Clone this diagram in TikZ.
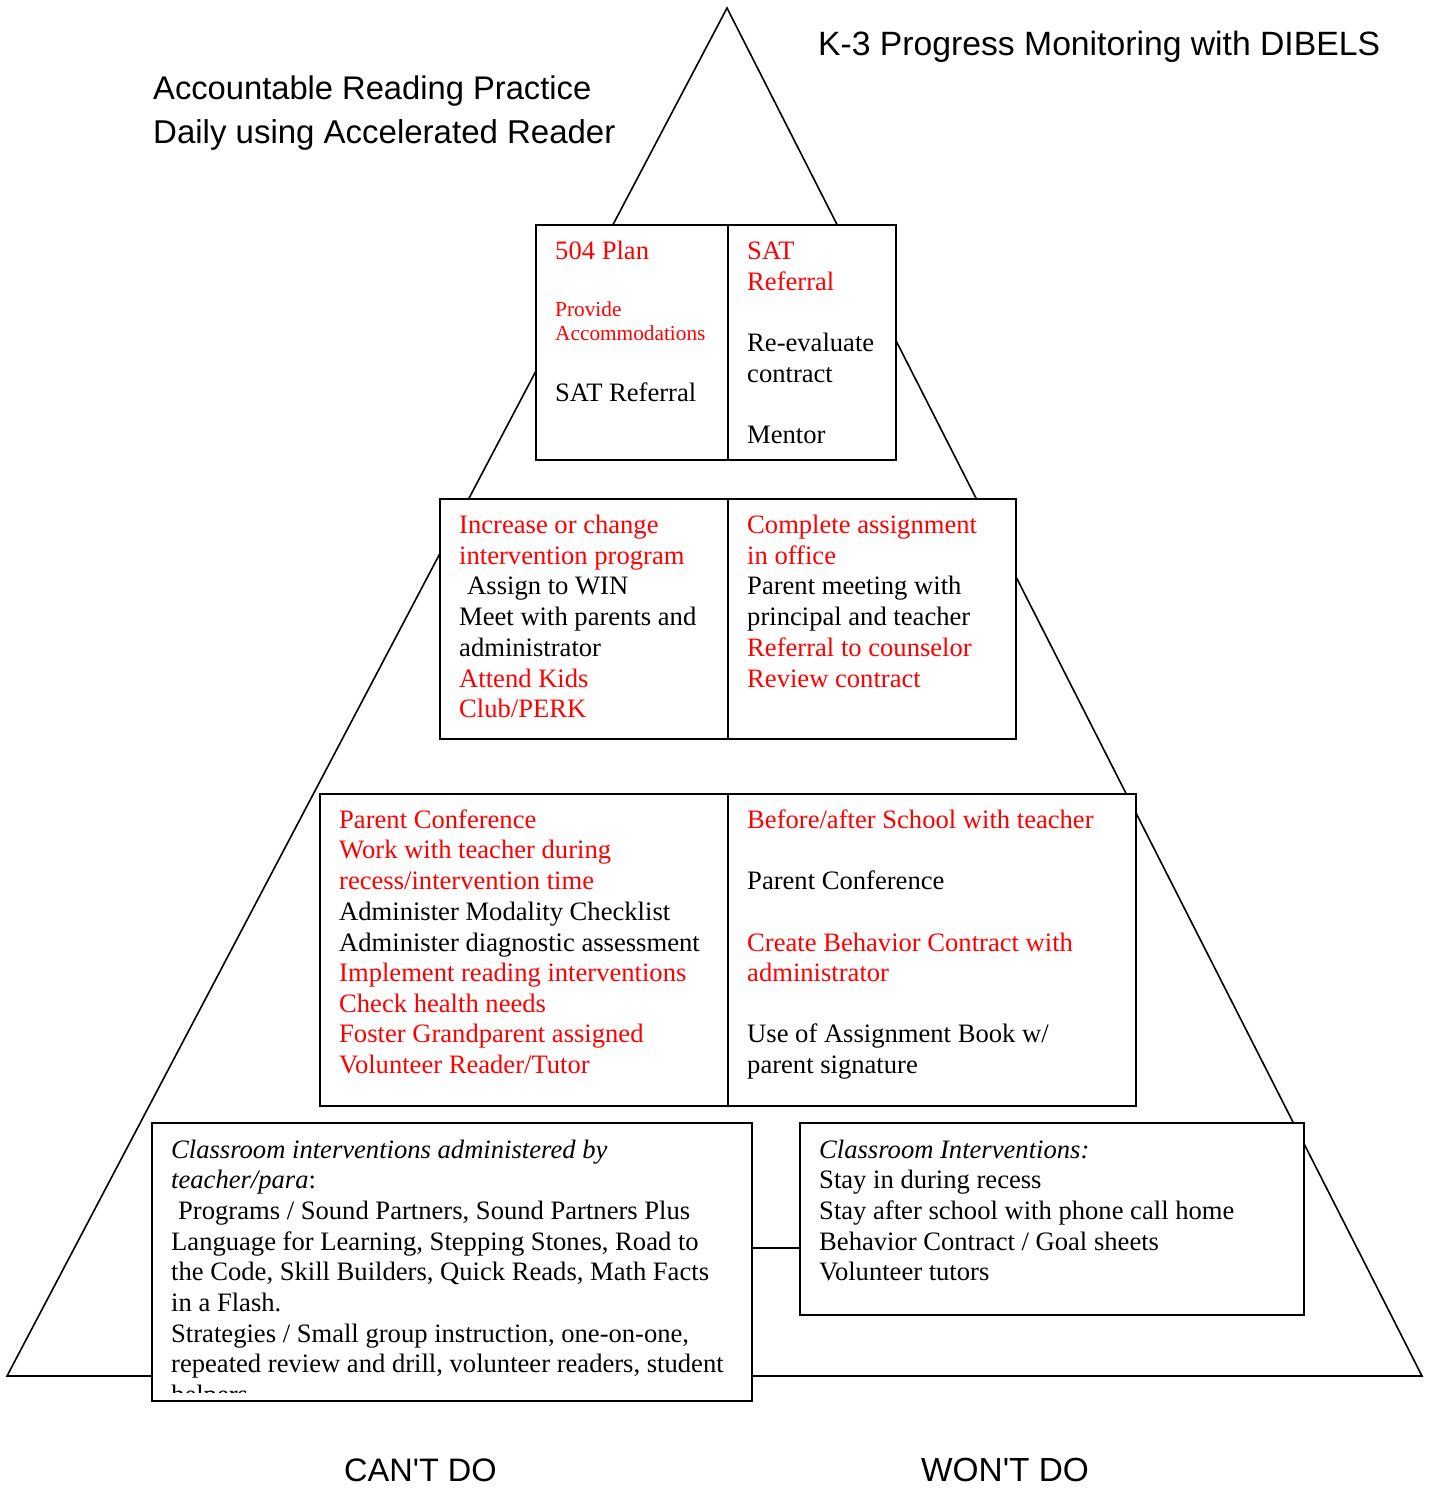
\documentclass[tikz,border=0pt]{standalone}
\usepackage{fontspec}
\setmainfont{Liberation Serif}
\newfontfamily\titlefont{Liberation Sans}
\definecolor{myred}{RGB}{255,0,0}
\begin{document}
\begin{tikzpicture}[x=1pt,y=-1pt,
  cell/.style={draw, line width=2pt, fill=white, inner sep=0pt, anchor=north west},
  tri/.style={draw, line width=1.6pt, line join=miter},
  txt/.style={inner sep=0pt, anchor=base west, font=\fontsize{26.6}{30.6}\selectfont},
  smtxt/.style={txt, font=\fontsize{21.3}{25}\selectfont},
  rtxt/.style={text=myred},
  ttl/.style={inner sep=0pt, anchor=base west, font=\titlefont\fontsize{#1}{40}\selectfont}]
\useasboundingbox (0,0) rectangle (1429,1490);

% pyramid
\coordinate (apex) at (727,8);
\coordinate (bl) at (7,1376);
\coordinate (br) at (1422,1376);
\draw[tri] (apex) -- (bl) -- (br) -- cycle;

% titles
\node[ttl=33.7] (t1) at (818,56) {K-3 Progress Monitoring with DIBELS};
\node[ttl=32.7] (t2) at (153,100) {Accountable Reading Practice};
\node[ttl=33.0] (t3) at (153,144) {Daily using Accelerated Reader};
\node[ttl=32.5] (t4) at (344,1481) {CAN'T DO};
\node[ttl=33.4] (t5) at (921,1481) {WON'T DO};

% tier 1 (top)
\node[cell, minimum width=192pt, minimum height=235pt] (b1l) at (535,224) {};
\node[cell, minimum width=168pt, minimum height=235pt] (b1r) at (727,224) {};
\node[txt, rtxt] (b1l1) at (555,259) {504 Plan};
\node[smtxt, rtxt] (b1l2) at (555,316) {Provide};
\node[smtxt, rtxt] (b1l3) at (555,340) {Accommodations};
\node[txt] (b1l4) at (555,401) {SAT Referral};
\node[txt, rtxt] (b1r1) at (747,259) {SAT};
\node[txt, rtxt] (b1r2) at (747,290) {Referral};
\node[txt] (b1r3) at (747,351) {Re-evaluate};
\node[txt] (b1r4) at (747,382) {contract};
\node[txt] (b1r5) at (747,443) {Mentor};

% tier 2
\node[cell, minimum width=288pt, minimum height=240pt] (b2l) at (439,498) {};
\node[cell, minimum width=288pt, minimum height=240pt] (b2r) at (727,498) {};
\node[txt, rtxt] (b2l1) at (459,533) {Increase or change};
\node[txt, rtxt] (b2l2) at (459,564) {intervention program};
\node[txt] (b2l3) at (467,594) {Assign to WIN};
\node[txt] (b2l4) at (459,625) {Meet with parents and};
\node[txt] (b2l5) at (459,656) {administrator};
\node[txt, rtxt] (b2l6) at (459,687) {Attend Kids};
\node[txt, rtxt] (b2l7) at (459,717) {Club/PERK};
\node[txt, rtxt] (b2r1) at (747,533) {Complete assignment};
\node[txt, rtxt] (b2r2) at (747,564) {in office};
\node[txt] (b2r3) at (747,594) {Parent meeting with};
\node[txt] (b2r4) at (747,625) {principal and teacher};
\node[txt, rtxt] (b2r5) at (747,656) {Referral to counselor};
\node[txt, rtxt] (b2r6) at (747,687) {Review contract};

% tier 3
\node[cell, minimum width=408pt, minimum height=312pt] (b3l) at (319,793) {};
\node[cell, minimum width=408pt, minimum height=312pt] (b3r) at (727,793) {};
\node[txt, rtxt] (b3l1) at (339,828) {Parent Conference};
\node[txt, rtxt] (b3l2) at (339,858) {Work with teacher during};
\node[txt, rtxt] (b3l3) at (339,889) {recess/intervention time};
\node[txt] (b3l4) at (339,920) {Administer Modality Checklist};
\node[txt] (b3l5) at (339,951) {Administer diagnostic assessment};
\node[txt, rtxt] (b3l6) at (339,981) {Implement reading interventions};
\node[txt, rtxt] (b3l7) at (339,1012) {Check health needs};
\node[txt, rtxt] (b3l8) at (339,1042) {Foster Grandparent assigned};
\node[txt, rtxt] (b3l9) at (339,1073) {Volunteer Reader/Tutor};
\node[txt, rtxt] (b3r1) at (747,828) {Before/after School with teacher};
\node[txt] (b3r2) at (747,889) {Parent Conference};
\node[txt, rtxt] (b3r3) at (747,951) {Create Behavior Contract with};
\node[txt, rtxt] (b3r4) at (747,981) {administrator};
\node[txt] (b3r5) at (747,1042) {Use of Assignment Book w/};
\node[txt] (b3r6) at (747,1073) {parent signature};

% tier 4 (bottom)
\node[cell, minimum width=600pt, minimum height=278pt] (b4l) at (151,1122) {};
\node[cell, minimum width=504pt, minimum height=192pt] (b4r) at (799,1122) {};
\coordinate (cy) at (0,1248);
\draw[line width=2pt] (b4l.east |- cy) -- (b4r.west |- cy);
\begin{scope}
\clip (151,1122) rectangle (751,1392);
\node[txt] (b4l1) at (171,1158) {\itshape Classroom interventions administered by};
\node[txt] (b4l2) at (171,1188) {\itshape teacher/para\upshape:};
\node[txt] (b4l3) at (178,1219) {Programs / Sound Partners, Sound Partners Plus};
\node[txt] (b4l4) at (171,1250) {Language for Learning, Stepping Stones, Road to};
\node[txt] (b4l5) at (171,1280) {the Code, Skill Builders, Quick Reads, Math Facts};
\node[txt] (b4l6) at (171,1311) {in a Flash.};
\node[txt] (b4l7) at (171,1342) {Strategies / Small group instruction, one-on-one,};
\node[txt] (b4l8) at (171,1372) {repeated review and drill, volunteer readers, student};
\node[txt] (b4l9) at (171,1403) {helpers};
\end{scope}
\node[txt] (b4r1) at (819,1158) {\itshape Classroom Interventions:};
\node[txt] (b4r2) at (819,1188) {Stay in during recess};
\node[txt] (b4r3) at (819,1219) {Stay after school with phone call home};
\node[txt] (b4r4) at (819,1250) {Behavior Contract / Goal sheets};
\node[txt] (b4r5) at (819,1280) {Volunteer tutors};
\end{tikzpicture}
\end{document}
